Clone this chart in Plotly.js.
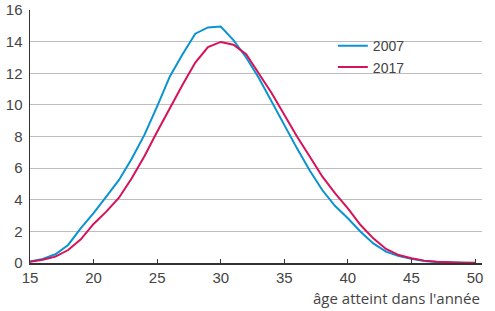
<!DOCTYPE html>
<html><head><meta charset="utf-8">
<script src="https://cdn.plot.ly/plotly-3.0.1.min.js"></script>
<style>html,body{margin:0;padding:0;background:#fff}#c{width:495px;height:311px}</style>
</head><body><div id="c"></div>
<script>
var ages = [15,16,17,18,19,20,21,22,23,24,25,26,27,28,29,30,31,32,33,34,35,36,37,38,39,40,41,42,43,44,45,46,47,48,49,50];
var y2007 = [0.1,0.25,0.55,1.14,2.2,3.15,4.2,5.25,6.6,8.1,9.9,11.8,13.2,14.5,14.9,14.95,14.1,13.0,11.7,10.2,8.7,7.25,5.85,4.6,3.6,2.83,1.98,1.24,0.72,0.44,0.27,0.13,0.06,0.03,0.01,0.0];
var y2017 = [0.08,0.2,0.4,0.82,1.5,2.47,3.25,4.13,5.36,6.75,8.3,9.8,11.27,12.68,13.65,13.98,13.8,13.2,12.0,10.75,9.37,8.0,6.73,5.46,4.4,3.46,2.4,1.56,0.89,0.5,0.3,0.15,0.08,0.04,0.02,0.01];
var names = ["2007","2017"];
var colors = ["#0a93d2","#d6125a"];
var xTitle = "âge atteint dans l'année";

var cond = "Liberation Sans Narrow, Liberation Sans, Arial, sans-serif";
var traces = [y2007, y2017].map(function(v,i){
  return {x: ages, y: v, type:"scatter", mode:"lines", name: names[i],
          line:{color: colors[i], width:2}};
});
var layout = {
  width:495, height:311,
  margin:{l:30, r:13, t:10, b:48},
  paper_bgcolor:"#fff", plot_bgcolor:"#fff",
  font:{family:cond, size:14, color:"#444"},
  showlegend:true,
  legend:{x:0.67, y:0.92, xanchor:"left", yanchor:"top", bgcolor:"rgba(0,0,0,0)",
          font:{family:cond, size:14, color:"#444"}, itemwidth:30, tracegroupgap:0},
  xaxis:{range:[15,50.55], tickvals:[15,20,25,30,35,40,45,50], showgrid:false, zeroline:false,
         showline:true, linecolor:"#333", linewidth:1.5, ticks:"inside", ticklen:4, tickcolor:"#333",
         tickfont:{family:cond, size:15, color:"#444"}},
  yaxis:{range:[0,16], tickvals:[0,2,4,6,8,10,12,14,16], showgrid:true, gridcolor:"#bdbdbd", gridwidth:1,
         zeroline:false, showline:true, linecolor:"#333", linewidth:1.5, ticks:"", ticklabelstandoff:3,
         tickfont:{family:cond, size:15, color:"#444"}},
  annotations:[{xref:"paper", yref:"paper", x:1, y:-0.14, xanchor:"right", yanchor:"middle", showarrow:false,
    text:xTitle, font:{family:"Open Sans, Noto Sans, sans-serif", size:15, color:"#444"}}]
};
Plotly.newPlot("c", traces, layout, {staticPlot:true, displayModeBar:false});
</script></body></html>
